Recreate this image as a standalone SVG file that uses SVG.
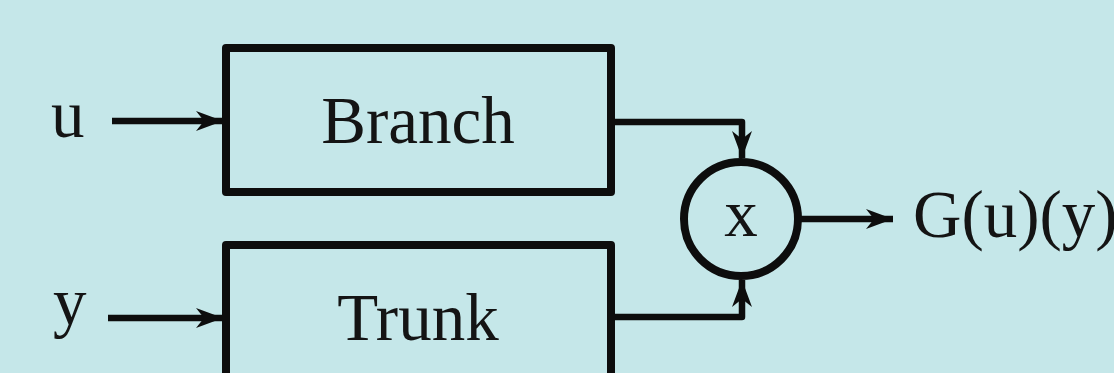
<svg xmlns="http://www.w3.org/2000/svg" width="1114" height="373" viewBox="0 0 1114 373">
  <style>
    .box { fill: none; stroke: #0d0d0d; stroke-width: 8; stroke-linejoin: round; }
    .wire { fill: none; stroke: #0d0d0d; stroke-width: 6.5; stroke-linejoin: round; }
    .lbl { font-family: "Liberation Serif", "Times New Roman", serif; font-size: 67px; fill: #141414; }
  </style>
  <defs>
    <marker id="arrow" markerUnits="userSpaceOnUse" markerWidth="32" markerHeight="24" viewBox="-30 -12 32 24" refX="0" refY="0" orient="auto">
      <path d="M0,0 L-27,-10 L-19,0 L-27,10 Z" fill="#0d0d0d"/>
    </marker>
  </defs>

  <rect x="0" y="0" width="1114" height="373" fill="#c5e7e9"/>

  <!-- input labels -->
  <text class="lbl" x="51" y="137">u</text>
  <text class="lbl" x="53" y="325">y</text>

  <g id="branch">
    <rect class="box" x="226" y="48" width="385" height="144"/>
    <text class="lbl" x="418" y="143" text-anchor="middle">Branch</text>
  </g>

  <g id="trunk">
    <rect class="box" x="226" y="245" width="385" height="160"/>
    <text class="lbl" x="418" y="340" text-anchor="middle">Trunk</text>
  </g>

  <g id="product">
    <circle class="box" cx="741" cy="219" r="57"/>
    <text class="lbl" x="741" y="236" text-anchor="middle" font-size="62">x</text>
  </g>

  <g id="output">
    <text class="lbl" x="913" y="237">G(u)(y)</text>
  </g>

  <g id="connectors">
    <path class="wire" d="M112,121 H223" marker-end="url(#arrow)"/>
    <path class="wire" d="M108,318 H223" marker-end="url(#arrow)"/>
    <path class="wire" d="M611,122 H742 V158" marker-end="url(#arrow)"/>
    <path class="wire" d="M611,317 H742 V280" marker-end="url(#arrow)"/>
    <path class="wire" d="M800,219 H893" marker-end="url(#arrow)"/>
  </g>
</svg>
